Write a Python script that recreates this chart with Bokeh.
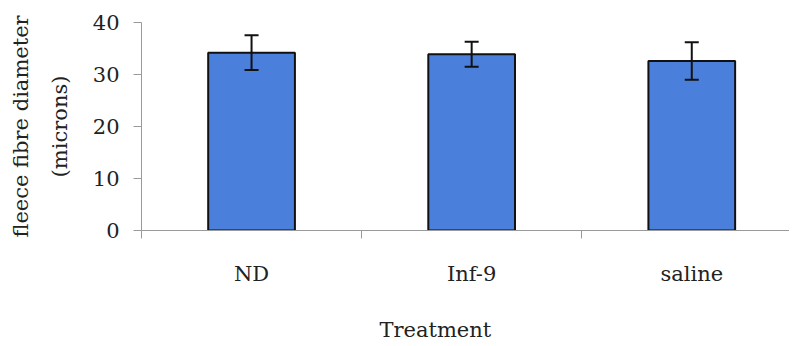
from bokeh.plotting import figure
from bokeh.models import (Range1d, FixedTicker, LinearAxis, Whisker, ColumnDataSource,
                          Title, TeeHead)
from bokeh.embed import file_html
from bokeh.resources import INLINE

categories = ["ND", "Inf-9", "saline"]
means = [34.2, 33.9, 32.6]
errors = [3.35, 2.4, 3.6]
y_ticks = [0, 10, 20, 30, 40]

FONT = "DejaVu Serif"
TXT = "#222222"
AX = "#9a9a9a"
FS = "21px"

xs = list(range(len(categories)))
src = ColumnDataSource(dict(
    x=xs, top=means,
    upper=[m + e for m, e in zip(means, errors)],
    lower=[m - e for m, e in zip(means, errors)],
))

p = figure(frame_width=648, frame_height=208, output_backend="svg", toolbar_location=None,
           x_range=Range1d(-0.5, 2.444), y_range=Range1d(0, 40),
           x_axis_type=None, y_axis_type=None,
           min_border_left=141, min_border_right=0, min_border_top=22,
           min_border_bottom=0)
p.outline_line_color = None
p.xgrid.visible = False
p.ygrid.visible = False

p.vbar(x="x", top="top", width=0.394, source=src, fill_color="#4a80dc",
       line_color="#111111", line_width=2)

w = Whisker(base="x", upper="upper", lower="lower", source=src, level="overlay",
            line_color="#111111", line_width=2,
            upper_head=TeeHead(size=14, line_color="#111111", line_width=2),
            lower_head=TeeHead(size=14, line_color="#111111", line_width=2))
p.add_layout(w)

# y axis (inner): ticks + "(microns)"
ya = LinearAxis(ticker=FixedTicker(ticks=y_ticks), axis_label="(microns)")
ya.axis_line_color = AX
ya.major_tick_line_color = AX
ya.major_tick_out = 8
ya.major_tick_in = 0
ya.minor_tick_line_color = None
ya.major_label_standoff = 14
ya.major_label_text_font = FONT
ya.major_label_text_font_size = FS
ya.major_label_text_color = TXT
ya.axis_label_text_font = FONT
ya.axis_label_text_font_size = FS
ya.axis_label_text_font_style = "normal"
ya.axis_label_text_color = TXT
ya.axis_label_standoff = 18
p.add_layout(ya, "left")

# outer label line
ya2 = LinearAxis(ticker=FixedTicker(ticks=[]), axis_label="fleece fibre diameter")
ya2.axis_line_color = None
ya2.major_tick_line_color = None
ya2.minor_tick_line_color = None
ya2.major_label_text_font_size = "0px"
ya2.axis_label_text_font = FONT
ya2.axis_label_text_font_size = FS
ya2.axis_label_text_font_style = "normal"
ya2.axis_label_text_color = TXT
ya2.axis_label_standoff = 12
p.add_layout(ya2, "left")

# x axis: labels at centers, ticks at category boundaries
xa = LinearAxis(ticker=FixedTicker(ticks=xs, minor_ticks=[x + 0.5 for x in [-1] + xs]))
xa.major_label_overrides = {x: c for x, c in zip(xs, categories)}
xa.axis_line_color = AX
xa.major_tick_line_color = None
xa.major_tick_out = 0
xa.major_tick_in = 0
xa.minor_tick_line_color = AX
xa.minor_tick_out = 8
xa.minor_tick_in = 0
xa.major_label_standoff = 23
xa.major_label_text_font = FONT
xa.major_label_text_font_size = FS
xa.major_label_text_color = TXT
p.add_layout(xa, "below")

t = Title(text="Treatment", align="left", offset=238, standoff=54,
          text_font=FONT, text_font_size=FS, text_font_style="normal",
          text_color=TXT)
p.add_layout(t, "below")

open("out.html", "w").write(file_html(p, INLINE))
